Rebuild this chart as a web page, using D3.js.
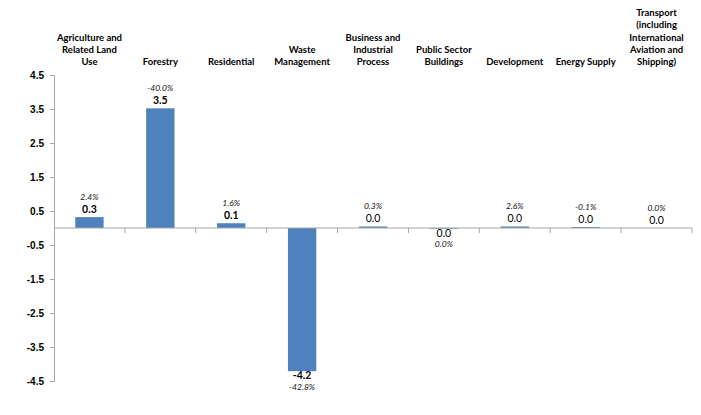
<!DOCTYPE html>
<html>
<head>
<meta charset="utf-8">
<script src="https://cdn.jsdelivr.net/npm/d3@7"></script>
<style>
  body { margin: 0; background: #fff; }
  svg { display: block; font-family: Lato, "Open Sans", sans-serif; }
</style>
</head>
<body>
<svg id="chart" width="701" height="415"></svg>
<script>
const categories = ["Agriculture", "Forestry", "Residential", "Waste", "Business",
  "Public Sector", "Development", "Energy Supply", "Transport"];
const categoryLines = [
  ["Agriculture and", "Related Land", "Use"],
  ["Forestry"],
  ["Residential"],
  ["Waste", "Management"],
  ["Business and", "Industrial", "Process"],
  ["Public Sector", "Buildings"],
  ["Development"],
  ["Energy Supply"],
  ["Transport", "(including", "International", "Aviation and", "Shipping)"]
];
const values = [0.32, 3.52, 0.14, -4.21, 0.045, -0.02, 0.045, 0.03, 0.0];
const percents = [2.4, -40.0, 1.6, -42.8, 0.3, 0.0, 2.6, -0.1, 0.0];
const yTicks = [4.5, 3.5, 2.5, 1.5, 0.5, -0.5, -1.5, -2.5, -3.5, -4.5];

const svg = d3.select("#chart");
const loc = d3.formatLocale({decimal: ".", thousands: ",", grouping: [3], currency: ["", ""], minus: "-"});
const fmt = loc.format(".1f");

const x = d3.scaleBand().domain(categories).range([54, 692]);
const y = d3.scaleLinear().domain([-4.5, 4.5]).range([381, 75]);
const barW = x.bandwidth() * 0.4;

// y axis
const yAxis = svg.append("g")
  .attr("transform", "translate(54,0)")
  .call(d3.axisLeft(y).tickValues(yTicks).tickSize(4).tickFormat(fmt));
yAxis.select(".domain").attr("stroke", "#a6a6a6");
yAxis.selectAll(".tick line").attr("stroke", "#a6a6a6");
yAxis.selectAll(".tick text")
  .attr("fill", "#000")
  .attr("font-size", 10)
  .attr("font-weight", "bold")
  .attr("x", -10);

// bars
svg.append("g").selectAll("rect")
  .data(values)
  .join("rect")
  .attr("x", (d, i) => x(categories[i]) + (x.bandwidth() - barW) / 2)
  .attr("y", d => y(Math.max(0, d)))
  .attr("width", barW)
  .attr("height", d => Math.abs(y(d) - y(0)))
  .attr("fill", "#4f81bd");

// category axis on zero
svg.append("line")
  .attr("x1", 54).attr("x2", 692)
  .attr("y1", y(0)).attr("y2", y(0))
  .attr("stroke", "#a6a6a6");
svg.append("g").selectAll("line")
  .data(categories.slice(1).concat([null]))
  .join("line")
  .attr("x1", d => d ? x(d) : x.range()[1])
  .attr("x2", d => d ? x(d) : x.range()[1])
  .attr("y1", y(0)).attr("y2", y(0) + 5)
  .attr("stroke", "#a6a6a6");

// category labels at top
categoryLines.forEach((lines, i) => {
  const cx = x(categories[i]) + x.bandwidth() / 2;
  lines.forEach((t, j) => {
    svg.append("text")
      .attr("x", cx)
      .attr("y", 65 - (lines.length - 1 - j) * 12.2)
      .attr("text-anchor", "middle")
      .attr("font-size", 9.5)
      .attr("font-weight", "bold")
      .text(t);
  });
});

// data labels
values.forEach((v, i) => {
  const cx = x(categories[i]) + x.bandwidth() / 2;
  const bold = Math.abs(v) >= 0.05;
  const above = v >= 0;
  svg.append("text")
    .attr("x", cx)
    .attr("y", above ? y(v) - 4 : y(v) + 8)
    .attr("text-anchor", "middle")
    .attr("font-size", 10.5)
    .attr("font-weight", bold ? "bold" : "normal")
    .text(fmt(v));
  svg.append("text")
    .attr("x", cx)
    .attr("y", above ? y(v) - 17 : y(v) + 18.5)
    .attr("text-anchor", "middle")
    .attr("font-size", 8.5)
    .attr("font-style", "italic")
    .attr("fill", "#111")
    .text(fmt(percents[i]) + "%");
});
</script>
</body>
</html>
